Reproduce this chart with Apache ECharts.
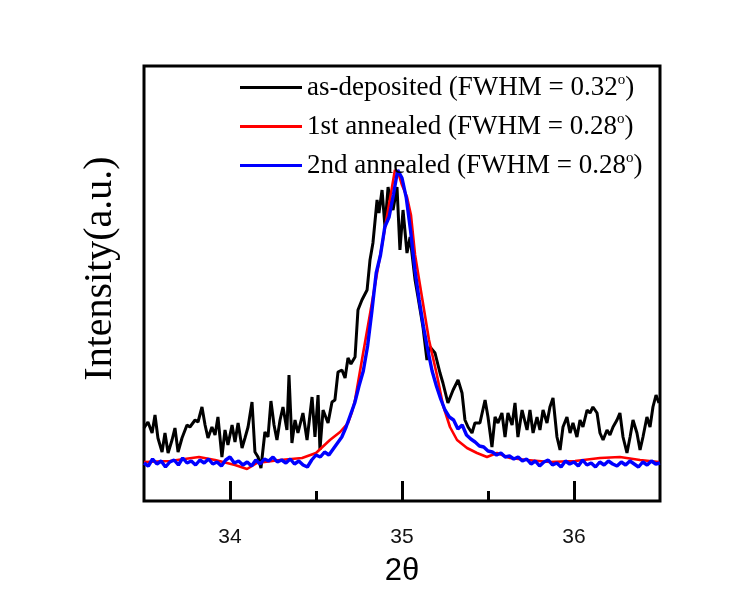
<!DOCTYPE html>
<html><head><meta charset="utf-8">
<script src="https://cdn.jsdelivr.net/npm/echarts@6/dist/echarts.min.js"></script>
<style>html,body{margin:0;padding:0;background:#fff}#c{width:750px;height:596px}</style>
</head><body><div id="c"></div>
<script>
const seriesNames = ['as-deposited (FWHM = 0.32°)', '1st annealed (FWHM = 0.28°)', '2nd annealed (FWHM = 0.28°)'];
const seriesColors = ['#000000', '#ff0000', '#0000ff'];
const majorTicks = [34, 35, 36];
const minorTicks = [34.5, 35.5];
const xTitle = '2θ';
const yTitle = 'Intensity(a.u.)';

const xBlack = [33.500,33.523,33.547,33.564,33.581,33.605,33.622,33.640,33.663,33.680,33.698,33.721,
33.750,33.767,33.797,33.814,33.837,33.855,33.872,33.895,33.913,33.930,33.953,33.971,33.988,
34.012,34.029,34.047,34.070,34.087,34.105,34.128,34.145,34.163,34.180,34.203,34.221,34.238,34.256,34.273,34.291,34.308,34.331,34.343,
34.360,34.378,34.395,34.424,34.448,34.477,34.494,34.512,34.523,34.541,34.570,34.593,34.610,34.628,34.651,34.669,34.686,34.703,34.727,
34.744,34.767,34.797,34.814,34.831,34.855,34.866,34.884,34.901,34.919,34.936,34.948,34.971,34.988,
35.006,35.029,35.047,35.076,35.093,35.122,35.145,35.163,35.192,35.221,35.238,35.267,35.297,35.326,35.349,35.366,35.384,35.407,35.424,35.453,35.483,35.500,
35.523,35.541,35.558,35.581,35.599,35.616,35.640,35.657,35.674,35.698,35.727,35.744,35.762,35.785,35.802,35.820,35.843,35.860,35.878,35.901,35.919,35.936,35.959,35.977,35.994,
36.017,36.035,36.052,36.076,36.093,36.110,36.134,36.151,36.169,36.192,36.209,36.227,36.250,36.267,36.285,36.308,36.326,36.343,36.366,36.384,36.401,36.424,36.442,36.459,36.477,36.494];
const yBlack = [73,79,68,86,63,49,68,48,61,73,49,63,
76,74,81,79,94,76,63,74,66,84,44,71,56,
76,59,78,53,63,74,99,49,44,33,69,64,100,76,61,81,94,71,126,
58,81,68,88,61,104,64,106,51,91,78,99,101,129,131,123,143,137,144,
191,201,211,241,258,301,288,311,274,314,296,291,314,251,
291,248,264,221,204,174,141,154,148,128,118,98,111,121,108,81,74,68,78,78,101,84,
54,84,78,88,64,88,76,98,64,91,71,91,68,84,71,91,78,94,103,64,51,74,84,68,78,
64,81,74,91,88,94,88,68,61,71,66,74,81,88,64,48,64,81,68,51,64,84,74,94,106,98];

const xRed = [33.500,33.651,33.820,33.913,34.029,34.099,34.157,34.291,34.419,34.500,
34.581,34.640,34.686,34.709,34.727,34.767,34.814,34.855,34.890,34.930,
34.959,34.977,35.000,35.029,35.052,35.076,35.116,35.157,35.203,35.238,
35.279,35.320,35.378,35.436,35.494,35.552,35.628,35.727,35.860,36.006,
36.151,36.267,36.384,36.494];
const yRed = [39,40,44,41,36,32,38,41,43,48,
61,69,78,89,101,141,187,228,262,302,
331,329,316,304,286,246,204,161,126,96,
74,61,53,48,44,48,43,41,39,40,
43,44,41,39];

const xBlue = [33.500,33.525,33.550,33.575,33.600,33.625,33.650,33.675,33.700,33.725,
33.750,33.775,33.800,33.825,33.850,33.875,33.900,33.925,33.950,33.975,
34.000,34.025,34.050,34.075,34.100,34.125,34.150,34.175,34.200,34.225,
34.250,34.275,34.300,34.325,34.350,34.375,34.400,34.425,34.450,34.475,
34.500,34.525,34.550,34.575,34.600,34.625,34.650,34.675,34.700,34.725,
34.750,34.775,
34.800,34.825,34.850,34.875,34.900,34.925,34.950,34.975,
35.000,35.025,35.050,35.075,35.100,35.125,35.150,35.175,35.200,35.225,
35.250,35.275,35.300,35.325,35.350,35.375,35.400,35.425,35.450,35.475,
35.500,35.525,35.550,35.575,35.600,35.625,35.650,35.675,35.700,35.725,
35.750,35.775,35.800,35.825,35.850,35.875,35.900,35.925,35.950,35.975,
36.000,36.025,36.050,36.075,36.100,36.125,36.150,36.175,36.200,36.225,
36.250,36.275,36.300,36.325,36.350,36.375,36.400,36.425,36.450,36.475,
36.500];
const yBlue = [38,35,42,37,40,34,39,41,36,43,
38,40,36,41,38,42,37,39,35,41,
44,38,40,36,39,35,41,37,42,40,
44,39,41,38,42,37,40,36,34,41,
46,44,49,46,52,58,64,74,86,98,
115,130,
155,190,228,246,274,284,306,331,
323,303,270,231,201,174,151,130,115,102,
91,84,81,72,76,66,62,59,55,54,
50,49,46,48,44,45,42,44,40,42,
37,40,35,39,41,36,38,34,40,37,
39,35,41,36,38,34,39,36,40,37,
35,39,36,40,37,34,39,36,40,37,
38];

function zip(xs, ys) { const n = Math.min(xs.length, ys.length); const out = []; for (let i = 0; i < n; i++) out.push([xs[i], ys[i]]); return out; }
const seriesData = [zip(xBlack, yBlack), zip(xRed, yRed), zip(xBlue, yBlue)];
const lineWidths = [3, 2.6, 3.4];

const serif = "'Liberation Serif','Times New Roman',Times,serif";
const sans = "'Liberation Sans',Arial,Helvetica,sans-serif";

const chart = echarts.init(document.getElementById('c'), null, {renderer: 'canvas'});
chart.setOption({
  animation: false,
  backgroundColor: '#ffffff',
  grid: {left: 144, right: 90, top: 66, bottom: 95, show: true, borderColor: '#000', borderWidth: 3, backgroundColor: 'transparent'},
  legend: {
    orient: 'vertical', left: 240, top: 73, padding: 0, itemWidth: 62, itemHeight: 3, itemGap: 11, icon: 'rect',
    data: seriesNames.map((n, i) => ({name: n, itemStyle: {color: seriesColors[i]}})),
    formatter: n => { const p = n.split('°'); return '{n|' + p[0] + '}{s|o}{n|' + p[1] + '}'; },
    textStyle: {
      color: '#000', fontFamily: serif, fontSize: 27,
      rich: {
        n: {fontSize: 27, fontFamily: serif, color: '#000', lineHeight: 29},
        s: {fontSize: 15, fontFamily: serif, color: '#000', lineHeight: 15, verticalAlign: 'top'}
      }
    }
  },
  xAxis: [
    {type: 'value', min: 33.5, max: 36.5, position: 'bottom',
     axisLine: {show: false}, splitLine: {show: false},
     axisTick: {show: true, inside: true, length: 20, lineStyle: {color: '#000', width: 3}, customValues: majorTicks},
     axisLabel: {customValues: majorTicks, margin: 26, fontSize: 21, fontFamily: sans, color: '#111'},
     name: xTitle, nameLocation: 'middle', nameGap: 55,
     nameTextStyle: {fontSize: 31, fontFamily: sans, color: '#000'}},
    {type: 'value', min: 33.5, max: 36.5, position: 'bottom',
     axisLine: {show: false}, splitLine: {show: false},
     axisTick: {show: true, inside: true, length: 10, lineStyle: {color: '#000', width: 3}, customValues: minorTicks},
     axisLabel: {show: false}}
  ],
  yAxis: {
    type: 'value', min: 0, max: 435,
    axisLine: {show: false}, axisTick: {show: false}, axisLabel: {show: false}, splitLine: {show: false},
    name: yTitle, nameLocation: 'middle', nameGap: 24, nameRotate: 90,
    nameTextStyle: {fontSize: 40, fontFamily: serif, color: '#000', padding: [0, 0, 0, 30]}
  },
  series: seriesNames.map((n, i) => ({
    name: n, type: 'line', xAxisIndex: 0, data: seriesData[i],
    showSymbol: false, symbol: 'none', clip: true,
    itemStyle: {color: seriesColors[i]},
    lineStyle: {color: seriesColors[i], width: lineWidths[i]}
  }))
});
</script>
</body></html>
